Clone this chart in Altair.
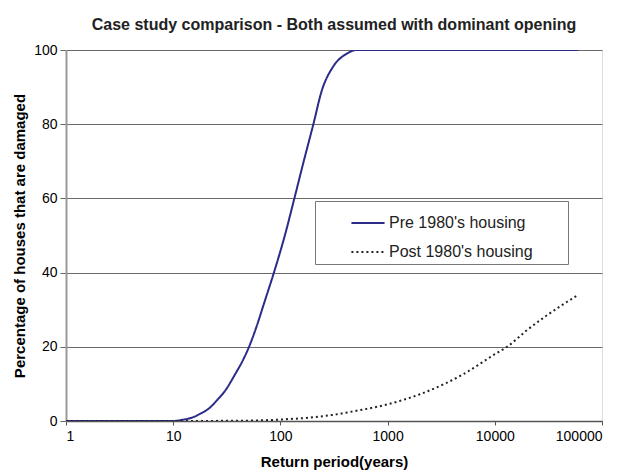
import altair as alt
import pandas as pd

# Return period (years) and % of houses damaged
pre_x = [1, 5, 10, 12, 15.3, 18, 22, 26, 30.4, 37.8, 44, 51, 60, 70, 87, 110,
         135, 165, 203, 243, 310, 415, 515, 1000, 10000, 60000]
pre_y = [0, 0, 0, 0.3, 1, 2, 3.6, 5.8, 8.1, 12.6, 16, 20, 25.5, 31.5, 40, 50,
         60, 70, 80, 89, 95.5, 99, 100, 100, 100, 100]

post_x = [1, 10, 50, 100, 200, 300, 500, 1000, 2000, 3500, 5000, 10000, 13000,
          20000, 30000, 60000]
post_y = [0, 0, 0.1, 0.4, 1, 1.6, 2.7, 4.5, 7.2, 10.2, 12.5, 18, 20, 24.5,
          28.3, 34]

series_names = ["Pre 1980's housing", "Post 1980's housing"]
x_ticks = [1, 10, 100, 1000, 10000, 100000]
y_ticks = [0, 20, 40, 60, 80, 100]

rows = []
for i, (x, y) in enumerate(zip(pre_x, pre_y)):
    rows.append({"rp": x, "pct": y, "series": series_names[0], "ord": i})
for i, (x, y) in enumerate(zip(post_x, post_y)):
    rows.append({"rp": x, "pct": y, "series": series_names[1], "ord": i})
df = pd.DataFrame(rows)

FONT = "Liberation Sans"

chart = alt.Chart(df).mark_line(strokeWidth=2, clip=True, interpolate="monotone").encode(
    x=alt.X("rp:Q",
            scale=alt.Scale(type="log", domain=[1, 100000], nice=False),
            axis=alt.Axis(values=x_ticks, format="d", title="Return period(years)",
                          grid=False, tickSize=4, tickColor="#555", labelPadding=4,
                          titlePadding=11, domainColor="#555", domainWidth=1.5,
                          labelFontSize=14, titleFontSize=15)),
    y=alt.Y("pct:Q",
            scale=alt.Scale(domain=[0, 100], nice=False),
            axis=alt.Axis(values=y_ticks, title="Percentage of houses that are damaged",
                          grid=True, gridColor="#6a6a6a", gridWidth=1, gridOpacity=1,
                          tickSize=6, tickColor="#666", labelPadding=3,
                          titlePadding=6, domainColor="#999", domainWidth=2,
                          labelFontSize=14, titleFontSize=15)),
    color=alt.Color("series:N",
                    scale=alt.Scale(domain=series_names, range=["#2b2b8a", "#222222"]),
                    legend=alt.Legend(title="\u00a0", titleOrient="right", titlePadding=31,
                                      orient="none", legendX=249, legendY=151,
                                      symbolType="stroke", symbolSize=1100,
                                      symbolStrokeWidth=2, symbolOffset=31,
                                      labelFontSize=16, labelFont=FONT, labelColor="#222",
                                      rowPadding=3, padding=4,
                                      strokeColor="#777", fillColor="white",
                                      labelOffset=3)),
    strokeDash=alt.StrokeDash("series:N",
                              scale=alt.Scale(domain=series_names, range=[[1, 0], [2, 3]]),
                              legend=None),
    order="ord:Q",
).properties(
    width=536,
    height=371,
    autosize=alt.AutoSizeParams(type="none"),
    padding={"left": 58, "top": 42, "right": 20, "bottom": 50},
    title=alt.Title("Case study comparison - Both assumed with dominant opening",
                    fontSize=16, fontWeight="bold", font=FONT, color="#222",
                    offset=10),
).configure_axis(
    labelFont=FONT, labelColor="#333",
    titleFont=FONT, titleFontWeight="bold", titleColor="#222",
).configure_view(
    stroke="#999", strokeWidth=2,
).configure(background="white")

chart.save("out.html", embed_options={"renderer": "svg", "actions": False})
